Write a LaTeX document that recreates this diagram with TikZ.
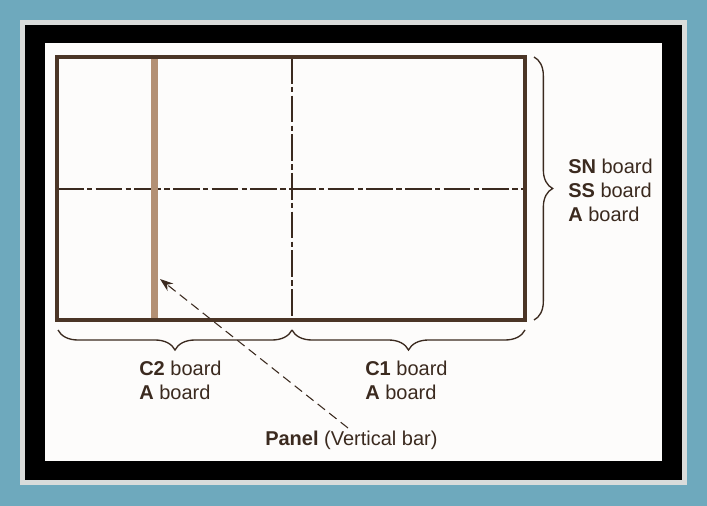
\documentclass[tikz,border=0pt]{standalone}
\usepackage{fontspec}
\setmainfont{Liberation Sans}
\usetikzlibrary{decorations.pathreplacing,arrows.meta}
\definecolor{teal1}{HTML}{6EA9BD}
\definecolor{gray1}{HTML}{D9DCDB}
\definecolor{paper}{HTML}{FDFCFB}
\definecolor{frameb}{HTML}{4B3526}
\definecolor{barc}{HTML}{B39074}
\definecolor{inkc}{HTML}{3B2A1F}
\tikzset{
  lbl/.style={text=inkc, font=\fontsize{15}{18}\selectfont, inner sep=0pt, anchor=west},
  centerline/.style={draw=inkc, line width=0.9pt, dash pattern=on 20pt off 2.5pt on 4pt off 2.5pt},
  bracec/.style={draw=inkc, line width=1pt, decorate, decoration={brace, amplitude=#1}},
}
\begin{document}
\begin{tikzpicture}[x=0.75pt,y=-0.75pt]
\useasboundingbox (0,0) rectangle (707,506);
\fill[teal1] (0,0) rectangle (707,506);
\fill[gray1] (20,20) rectangle (687,485);
\fill[black] (25,25) rectangle (682,480);
\fill[paper] (45,43) rectangle (662,461);
% center lines
\coordinate (vt) at (292,57);
\coordinate (vb) at (292,320);
\coordinate (hl) at (57,189);
\coordinate (hr) at (525,189);
\draw[centerline] (vt) -- (vb);
\draw[centerline] (hl) -- (hr);
% vertical bar
\fill[barc] (151,58) rectangle (158,319);
% main rectangle
\draw[frameb, line width=2.4pt] (57,57) rectangle (525,320);
% braces
\coordinate (rb1) at (534,57);
\coordinate (rb2) at (534,320);
\draw[bracec=14pt] (rb1) -- (rb2);
\coordinate (bl1) at (292,330);
\coordinate (bl2) at (58,330);
\draw[bracec=15pt] (bl1) -- (bl2);
\coordinate (br1) at (525,330);
\coordinate (br2) at (292,330);
\draw[bracec=15pt] (br1) -- (br2);
% labels
\node[lbl] (sn) at (568,166) {\textbf{SN} board};
\node[lbl] (ss) at (568,190) {\textbf{SS} board};
\node[lbl] (ar) at (568,214) {\textbf{A} board};
\node[lbl] (c2) at (139,368) {\textbf{C2} board};
\node[lbl] (a2) at (139,392) {\textbf{A} board};
\node[lbl] (c1) at (365,368) {\textbf{C1} board};
\node[lbl] (a1) at (365,392) {\textbf{A} board};
\node[lbl] (panel) at (265,440) {\textbf{Panel} (Vertical bar)};
% arrow
\coordinate (tail) at (348,428);
\coordinate (head) at (160,279);
\draw[inkc, line width=0.8pt, dash pattern=on 7pt off 4pt, -{Stealth[length=10pt,width=7pt]}] (tail) -- (head);
\end{tikzpicture}
\end{document}
